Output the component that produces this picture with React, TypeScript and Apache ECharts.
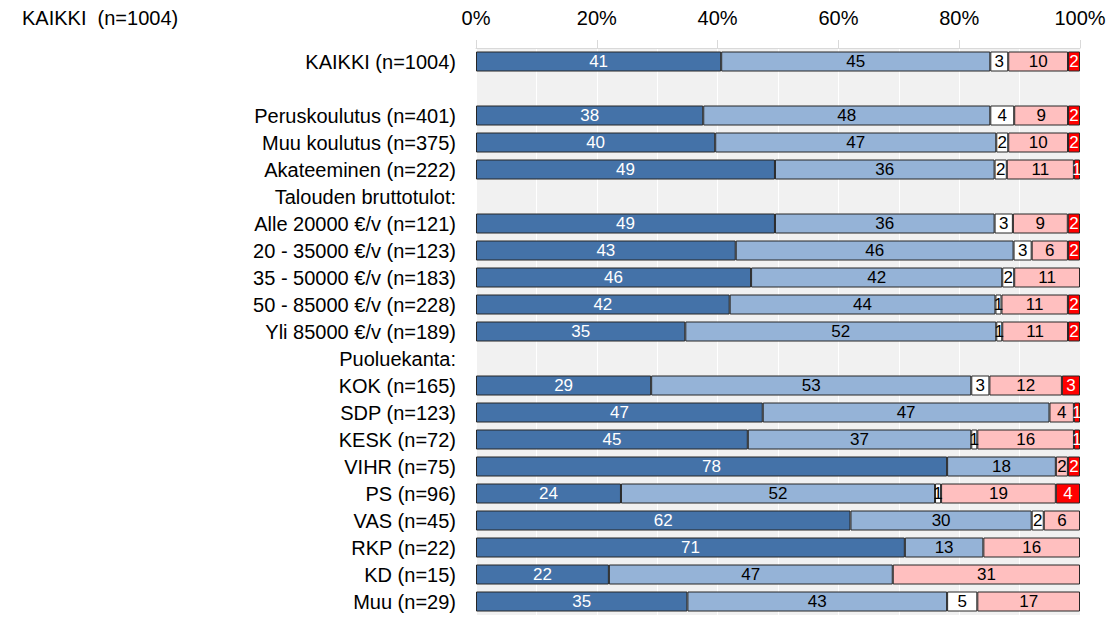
import React, { useEffect, useRef } from "react";
import * as echarts from "echarts";

const categories = [
  "KAIKKI (n=1004)",
  " ",
  "Peruskoulutus (n=401)",
  "Muu koulutus (n=375)",
  "Akateeminen (n=222)",
  "Talouden bruttotulot:",
  "Alle 20000 €/v (n=121)",
  "20 - 35000 €/v (n=123)",
  "35 - 50000 €/v (n=183)",
  "50 - 85000 €/v (n=228)",
  "Yli 85000 €/v (n=189)",
  "Puoluekanta:",
  "KOK (n=165)",
  "SDP (n=123)",
  "KESK (n=72)",
  "VIHR (n=75)",
  "PS (n=96)",
  "VAS (n=45)",
  "RKP (n=22)",
  "KD (n=15)",
  "Muu (n=29)",
];

// null = empty row (spacer / heading)
const s1 = [41, null, 38, 40, 49, null, 49, 43, 46, 42, 35, null, 29, 47, 45, 78, 24, 62, 71, 22, 35];
const s2 = [45, null, 48, 47, 36, null, 36, 46, 42, 44, 52, null, 53, 47, 37, 18, 52, 30, 13, 47, 43];
const s3 = [3, null, 4, 2, 2, null, 3, 3, 2, 1, 1, null, 3, 0, 1, 0, 1, 2, 0, 0, 5];
const s4 = [10, null, 9, 10, 11, null, 9, 6, 11, 11, 11, null, 12, 4, 16, 2, 19, 6, 16, 31, 17];
const s5 = [2, null, 2, 2, 1, null, 2, 2, 0, 2, 2, null, 3, 1, 1, 2, 4, 0, 0, 0, 0];

const xTicks = [0, 20, 40, 60, 80, 100];

const raw = [s1, s2, s3, s4, s5];
const colors = ["#4472a8", "#95b3d7", "#ffffff", "#ffbfbf", "#ff0000"];
const labelColors = ["#ffffff", "#000000", "#000000", "#000000", "#ffffff"];
const seriesNames = ["s1", "s2", "s3", "s4", "s5"];

const FONT = "'Liberation Sans', Arial, sans-serif";

export default function App() {
  const ref = useRef<HTMLDivElement>(null);
  useEffect(() => {
    if (!ref.current) return;
    const chart = echarts.init(ref.current, null, { renderer: "svg" });
    const sums = categories.map((_, i) =>
      raw.reduce((a, arr) => a + (arr[i] == null ? 0 : (arr[i] as number)), 0)
    );
    const series = raw.map((arr, k) => ({
      name: seriesNames[k],
      type: "bar",
      stack: "total",
      barWidth: 20,
      data: arr.map((v, i) =>
        v == null || v === 0 ? "-" : ((v as number) * 100) / sums[i]
      ),
      itemStyle: { color: colors[k], borderColor: "#262626", borderWidth: 1 },
      label: {
        show: true,
        position: "inside",
        color: labelColors[k],
        fontSize: 17,
        fontFamily: "'Liberation Sans Narrow', 'Liberation Sans', Arial, sans-serif",
        formatter: (p: any) => String(arr[p.dataIndex]),
      },
    }));
    chart.setOption({
      animation: false,
      title: {
        text: "KAIKKI  (n=1004)",
        left: 22,
        top: 8,
        padding: 0,
        textStyle: {
          fontSize: 20,
          fontWeight: "normal",
          color: "#000",
          fontFamily: FONT,
        },
      },
      grid: {
        left: 476,
        right: 35,
        top: 48,
        height: 567,
        show: true,
        backgroundColor: "#f1f1f1",
        borderWidth: 0,
      },
      xAxis: {
        type: "value",
        position: "top",
        min: xTicks[0],
        max: xTicks[xTicks.length - 1],
        interval: 20,
        axisLabel: {
          formatter: "{value}%",
          fontSize: 20,
          color: "#000",
          margin: 20,
          fontFamily: FONT,
        },
        axisLine: { show: true, lineStyle: { color: "#d9d9d9" } },
        axisTick: { show: true, length: 8, lineStyle: { color: "#d9d9d9" } },
        splitLine: { show: true, lineStyle: { color: "#ffffff", width: 1 } },
        minorTick: { show: false, splitNumber: 2 },
        minorSplitLine: { show: true, lineStyle: { color: "#ffffff", width: 1 } },
      },
      yAxis: {
        type: "category",
        inverse: true,
        data: categories,
        axisLine: { show: false },
        axisTick: { show: false },
        splitLine: { show: false },
        axisLabel: {
          fontSize: 20,
          color: "#000",
          margin: 20,
          fontFamily: FONT,
        },
      },
      series,
    });
    return () => chart.dispose();
  }, []);
  return (
    <div
      ref={ref}
      style={{ position: "fixed", left: 0, top: 0, width: 1115, height: 617, background: "#fff" }}
    />
  );
}
